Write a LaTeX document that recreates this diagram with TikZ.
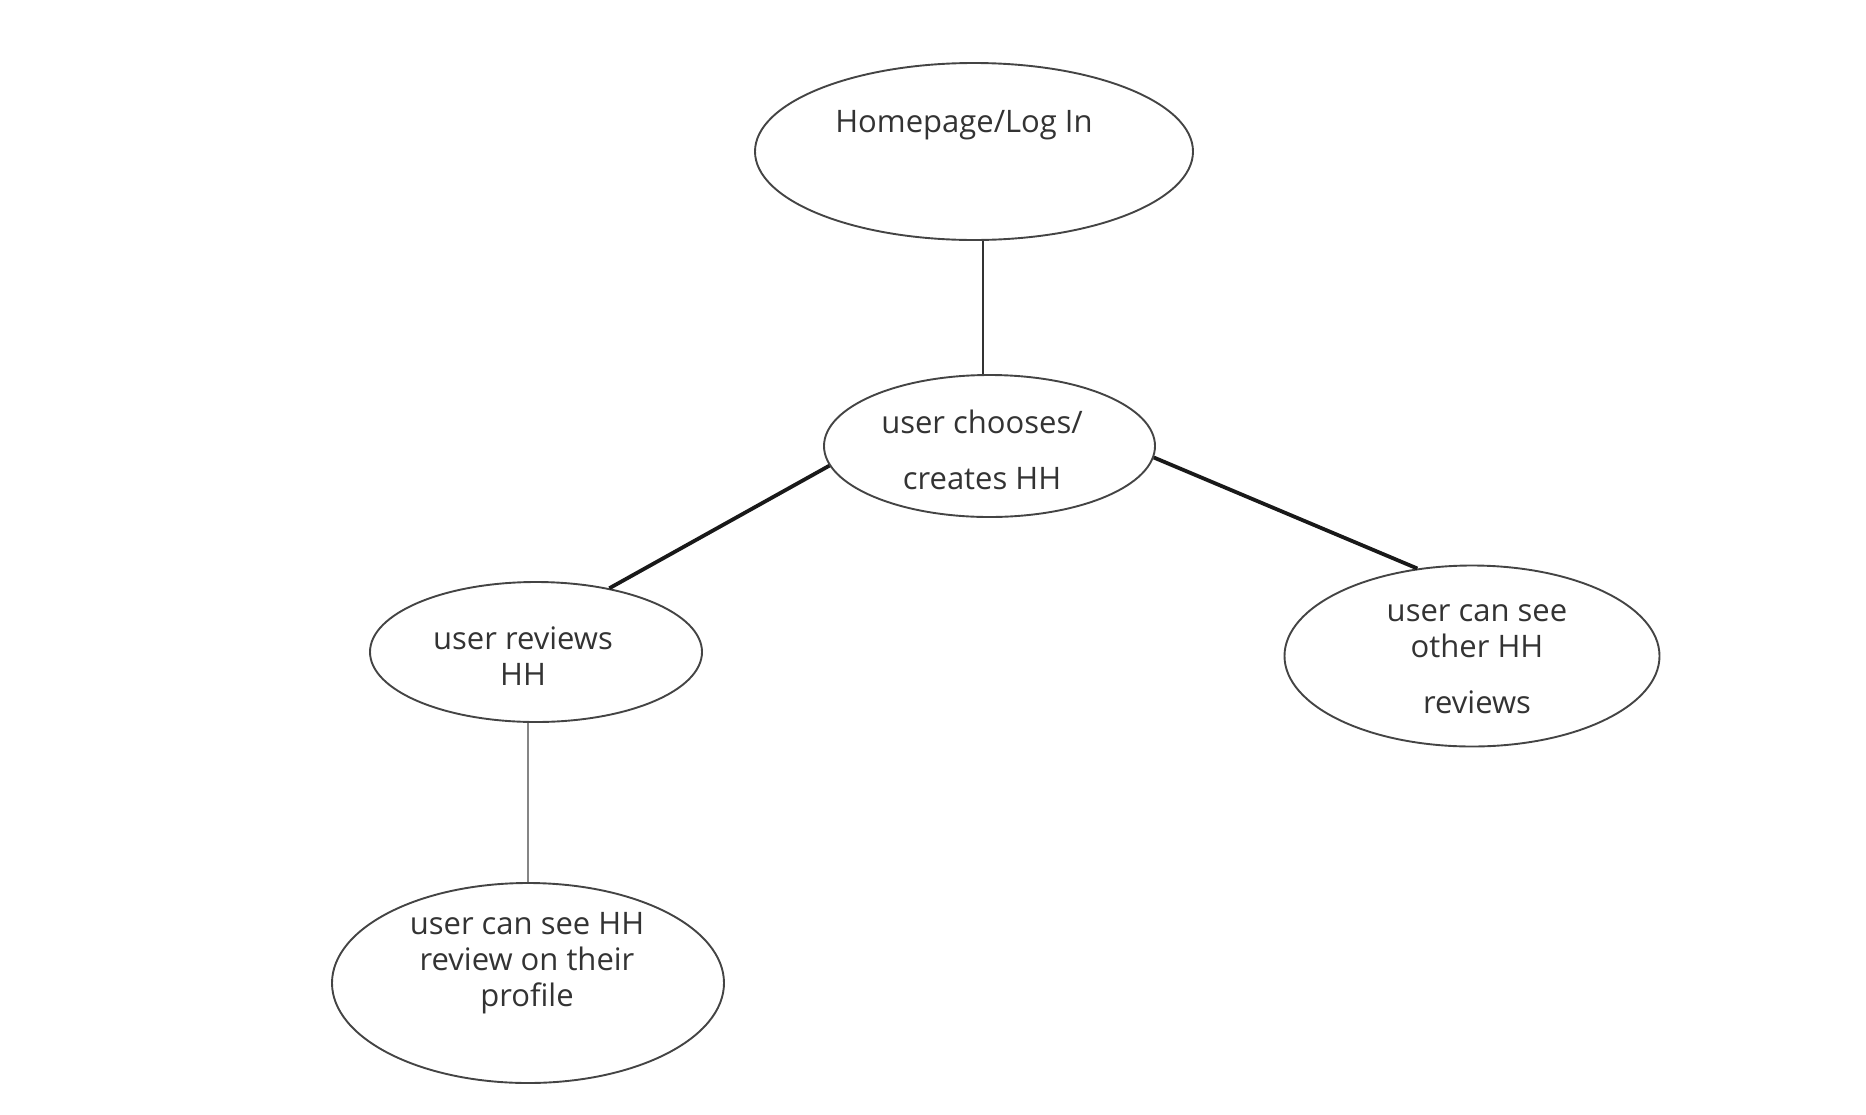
\documentclass[tikz,border=0pt]{standalone}
\usepackage{fontspec}
\setmainfont{Open Sans}
\definecolor{inkgray}{HTML}{333333}
\definecolor{rimgray}{HTML}{444444}
\definecolor{stemgray}{HTML}{858585}
\tikzset{
  bubble/.style={draw=rimgray, line width=1.9pt, ellipse, inner sep=0pt},
  words/.style={text=inkgray, align=center, font=\fontsize{31}{36}\selectfont},
  link/.style={line width=1.7pt, draw=inkgray},
  boldlink/.style={line width=3.8pt, draw=black!90}
}
\usetikzlibrary{shapes.geometric}
\begin{document}
\begin{tikzpicture}[x=1pt,y=-1pt]
			\useasboundingbox (0,0) rectangle (1866,1114);
			% the five bubbles
			\node[bubble, minimum width=438pt, minimum height=177pt] (home) at (974,151.5) {};
			\node[bubble, minimum width=331pt, minimum height=142pt] (choose) at (989.5,446) {};
			\node[bubble, minimum width=332pt, minimum height=140pt] (review) at (536,652) {};
			\node[bubble, minimum width=375pt, minimum height=181pt] (other) at (1472,656) {};
			\node[bubble, minimum width=392pt, minimum height=200pt] (profile) at (528,983) {};
			% their texts
			\node[words] (home text) at (964,125) {Homepage/Log In};
			\node[words] (choose text) at (982,450) {user chooses/\\[20pt]creates HH};
			\node[words] (review text) at (523,656) {user reviews\\HH};
			\node[words] (other text) at (1477,659) {user can see\\other HH\\[20pt]reviews};
			\node[words] (profile text) at (527,963) {user can see HH\\review on their\\profile};
			% connectors
			\coordinate (stem) at ([xshift=-6.5pt]choose.north);
			\draw[link] (stem) -- (stem |- home.south);
			\draw[boldlink] (choose.187) -- (review.41);
			\draw[boldlink] (choose.356) -- (other.122);
			\draw[link, draw=stemgray, line width=2pt] (profile.north) -- (profile.north |- review.south);
			\end{tikzpicture}
\end{document}
